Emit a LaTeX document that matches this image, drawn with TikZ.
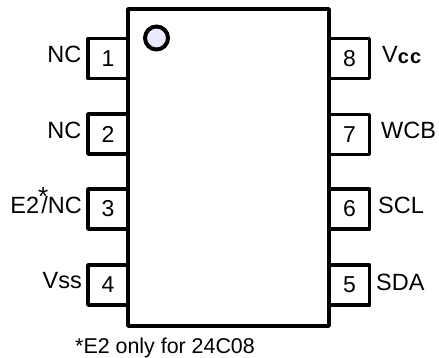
\documentclass[tikz,border=0pt]{standalone}
\usepackage{fontspec}
\setmainfont{Liberation Sans}
\tikzset{
  pinbox/.style={draw=black,line width=3.6pt,line join=round,fill=white,minimum width=40pt,minimum height=40pt,inner sep=0pt,font=\fontsize{23}{26}\selectfont},
  bodybox/.style={draw=black,line width=3.6pt,line join=round,fill=white,minimum width=201pt,minimum height=317pt,inner sep=0pt},
  lbl/.style={inner sep=0pt,font=\fontsize{23.5}{27}\selectfont},
  notch/.style={circle,draw=black,line width=4pt,fill=blue!8!white,minimum size=23pt,inner sep=0pt}
}
\begin{document}
\begin{tikzpicture}[x=1pt,y=-1pt]
\useasboundingbox (0,0) rectangle (439,358);
\foreach \n/\y in {1/58.5,2/134,3/209,4/285}{
  \node[pinbox] (p\n) at (108,\y) {\n};
}
\foreach \n/\y in {8/58.5,7/134.5,6/209,5/285}{
  \node[pinbox] (p\n) at (349.5,\y) {\n};
}
\node[bodybox] (body) at (228.5,167.5) {};
\node[notch] (dot) at (156.5,38) {};
\node[lbl,anchor=east] (l1) at (81.5,54) {NC};
\node[lbl,anchor=east] (l2) at (81.5,130) {NC};
\node[lbl,anchor=east] (l3) at (82,205.5) {E2\kern-1pt\smash{\raisebox{8pt}{\fontsize{26}{28}\selectfont *}}\kern-7pt/NC};
\node[lbl,anchor=east] (l4) at (82,281) {Vss};
\node[lbl,anchor=west] (l8) at (382,55) {V\raisebox{-1pt}{\fontsize{20}{22}\selectfont\bfseries\addfontfeatures{LetterSpace=6}cc}};
\node[lbl,anchor=west] (l7) at (381,130) {WCB};
\node[lbl,anchor=west] (l6) at (378,205.5) {SCL};
\node[lbl,anchor=west] (l5) at (376,282) {SDA};
\node[inner sep=0pt,anchor=west,font=\fontsize{21.4}{24}\selectfont] (note) at (75,348) {*E2 only for 24C08};
\end{tikzpicture}
\end{document}
